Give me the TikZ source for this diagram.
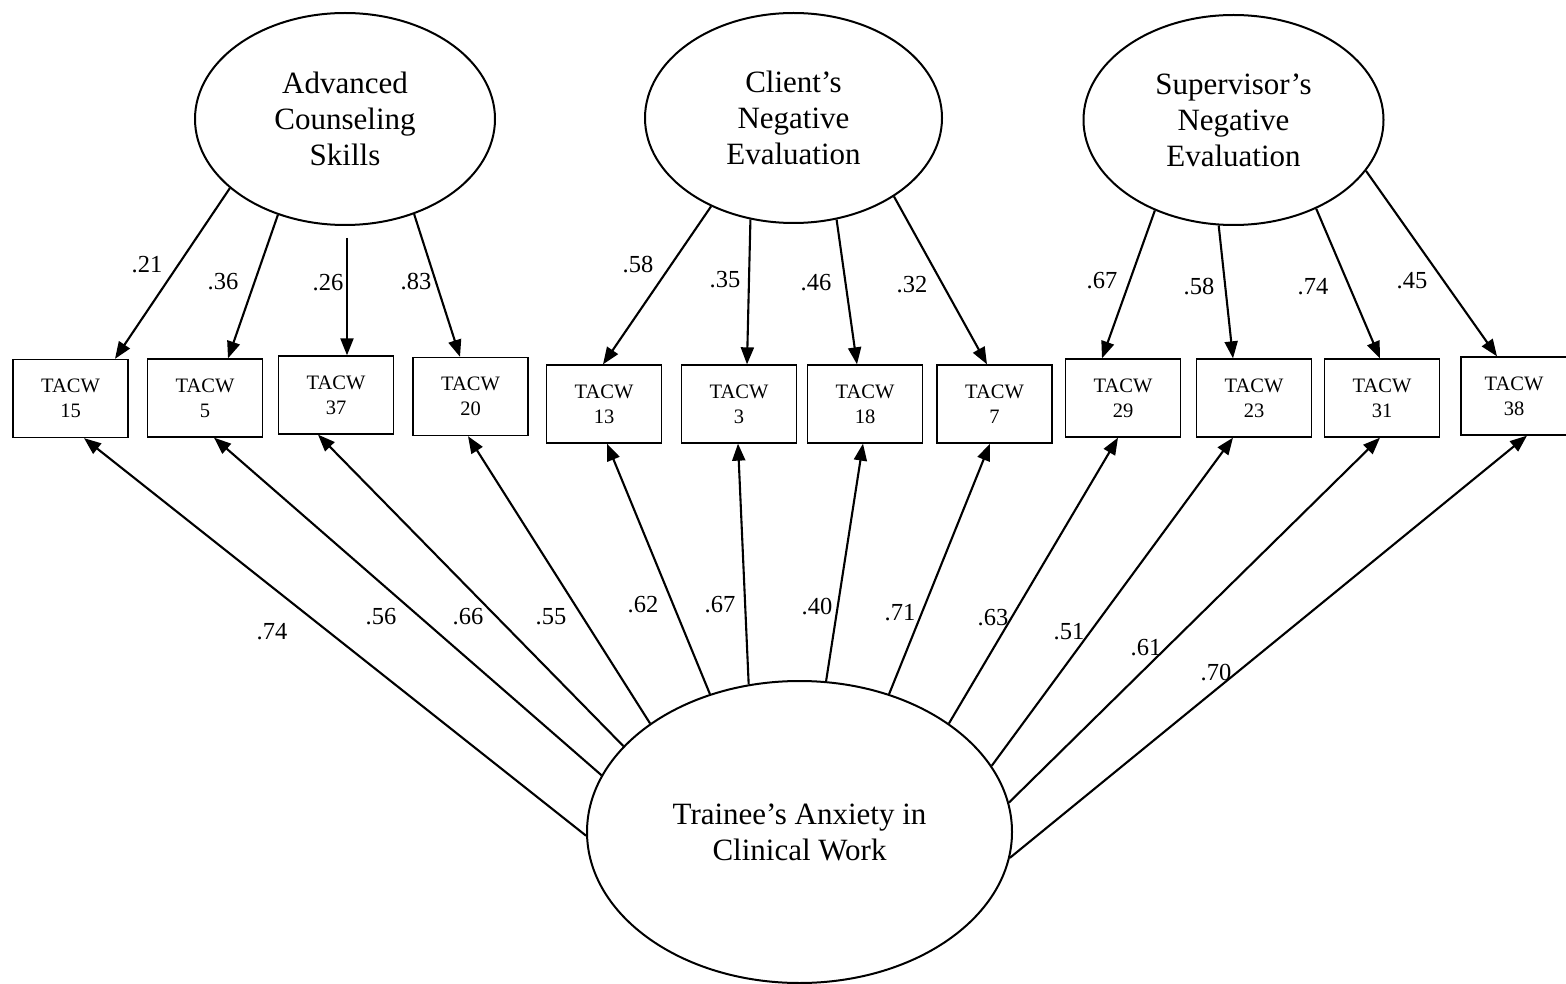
\documentclass[tikz,border=0pt]{standalone}
\usepackage{fontspec}
\setmainfont{Liberation Serif}
\usetikzlibrary{shapes.geometric,arrows.meta}

\begin{document}
\begin{tikzpicture}[x=1pt,y=-1pt,
  latent/.style={draw,ellipse,line width=2pt,inner sep=0pt,align=center,font=\fontsize{31}{36}\selectfont},
  item/.style={draw,line width=1.3pt,minimum width=115pt,minimum height=78pt,inner sep=0pt,align=center,font=\fontsize{20.5}{25}\selectfont},
  load/.style={line width=2.1pt,-{Triangle[length=17pt,width=13pt]}},
  coef/.style={inner sep=0pt,font=\fontsize{24.5}{26}\selectfont}]
\useasboundingbox (0,0) rectangle (1566,984);
% latent factors
\node [latent,minimum width=300pt,minimum height=212pt] (acs) at (345,119) {Advanced\\Counseling\\Skills};
\node [latent,minimum width=297pt,minimum height=210pt] (cne) at (793.5,118) {Client’s\\Negative\\Evaluation};
\node [latent,minimum width=300pt,minimum height=210pt] (sne) at (1233.5,120) {Supervisor’s\\Negative\\Evaluation};
\node [latent,minimum width=425pt,minimum height=302pt] (tac) at (799.5,832) {Trainee’s Anxiety in\\Clinical Work};
% items
\node [item] (t15) at (70.5,398.5) {TACW\\15};
\node [item] (t5) at (205,398) {TACW\\5};
\node [item] (t37) at (336,395) {TACW\\37};
\node [item] (t20) at (470.5,396.5) {TACW\\20};
\node [item] (t13) at (604,404) {TACW\\13};
\node [item] (t3) at (739,404) {TACW\\3};
\node [item] (t18) at (865,404) {TACW\\18};
\node [item] (t7) at (994.5,404) {TACW\\7};
\node [item] (t29) at (1123,398) {TACW\\29};
\node [item] (t23) at (1254,398) {TACW\\23};
\node [item] (t31) at (1382,398) {TACW\\31};
\node [item,minimum width=106pt] (t38) at (1514,396) {TACW\\38};
% loadings of the three factors
\draw [load] (acs.-149.2) -- ([xshift=44.5pt]t15.north);
\draw [load] (acs.-125.5) -- ([xshift=23pt]t5.north);
\draw [load] ([xshift=2pt,yshift=-12pt]acs.south) -- ([xshift=11pt]t37.north);
\draw [load] (acs.-54.2) -- ([xshift=-10.5pt]t20.north);
\draw [load] (cne.-133.8) -- ([xshift=-1pt]t13.north);
\draw [load] (cne.-113.9) -- ([xshift=8pt]t3.north);
\draw [load] (cne.-67.6) -- ([xshift=-8pt]t18.north);
\draw [load] (cne.-38.9) -- ([xshift=-7.5pt]t7.north);
\draw [load] (sne.-131.7) -- ([xshift=-21pt]t29.north);
\draw [load] (sne.-98.3) -- ([xshift=-21pt]t23.north);
\draw [load] (sne.-47.6) -- ([xshift=-2pt]t31.north);
\draw [load] (sne.-21.9) -- ([xshift=-17pt]t38.north);
% loadings of trainee's anxiety
\draw [load] (tac.181.6) -- ([xshift=13.5pt]t15.south);
\draw [load] (tac.164.9) -- ([xshift=9pt]t5.south);
\draw [load] (tac.154.7) -- ([xshift=-18pt]t37.south);
\draw [load] (tac.144.3) -- ([xshift=-2.5pt]t20.south);
\draw [load] (tac.123.4) -- ([xshift=3pt]t13.south);
\draw [load] (tac.109.2) -- ([xshift=-1pt]t3.south);
\draw [load] (tac.80.4) -- ([xshift=-2pt]t18.south);
\draw [load] (tac.57.1) -- ([xshift=-4.5pt]t7.south);
\draw [load] (tac.36.1) -- ([xshift=-5pt]t29.south);
\draw [load] (tac.19.4) -- ([xshift=-21pt]t23.south);
\draw [load] (tac.8.3) -- ([xshift=-2pt]t31.south);
\draw [load] (tac.-7.8) -- ([xshift=13pt]t38.south);
% coefficients
\node [coef] (c15) at (147,265) {.21};
\node [coef] (c5) at (223,282) {.36};
\node [coef] (c37) at (328,283) {.26};
\node [coef] (c20) at (416,282) {.83};
\node [coef] (c13) at (638,265) {.58};
\node [coef] (c3) at (725,280) {.35};
\node [coef] (c18) at (816,283) {.46};
\node [coef] (c7) at (912,285) {.32};
\node [coef] (c29) at (1102,281) {.67};
\node [coef] (c23) at (1199,287) {.58};
\node [coef] (c31) at (1313,287) {.74};
\node [coef] (c38) at (1412,281) {.45};
\node [coef] (d15) at (272,632) {.74};
\node [coef] (d5) at (381,617) {.56};
\node [coef] (d37) at (468,617) {.66};
\node [coef] (d20) at (551,617) {.55};
\node [coef] (d13) at (643,605) {.62};
\node [coef] (d3) at (720,605) {.67};
\node [coef] (d18) at (817,607) {.40};
\node [coef] (d7) at (900,613) {.71};
\node [coef] (d29) at (993,618) {.63};
\node [coef] (d23) at (1069,632) {.51};
\node [coef] (d31) at (1146,648) {.61};
\node [coef] (d38) at (1216,673) {.70};
\end{tikzpicture}
\end{document}
